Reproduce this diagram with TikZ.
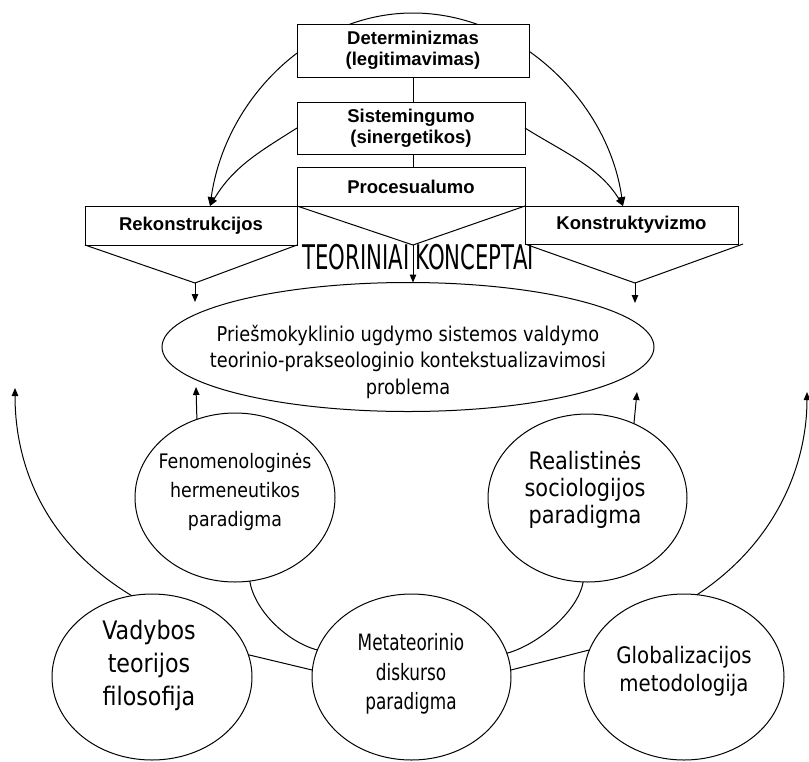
\documentclass[tikz,border=0pt]{standalone}
\usepackage{fontspec}
\usetikzlibrary{shapes.geometric,arrows.meta,backgrounds}
\newfontfamily\tahfont[FakeStretch=0.87]{DejaVu Sans}
\newfontfamily\metafont[FakeStretch=0.75]{DejaVu Sans}
\newfontfamily\bannerfont[FakeStretch=0.625]{DejaVu Sans}
\newfontfamily\boxfont{Liberation Sans}

\tikzset{
  conceptbox/.style={draw, fill=white, line width=1pt, inner sep=0pt, outer sep=0pt,
    align=center, font=\boxfont\bfseries\fontsize{18.5}{21}\selectfont},
  oval/.style={draw, ellipse, line width=1pt, inner sep=0pt, outer sep=0pt},
  link/.style={line width=1pt},
  arrowto/.style={line width=1pt, -{Triangle[length=8pt,width=6.5pt]}},
  twoway/.style={line width=1pt, {Triangle[length=9pt,width=7pt]}-{Triangle[length=9pt,width=7pt]}},
  ovaltext/.style={align=center, inner sep=0pt},
}

\begin{document}
\begin{tikzpicture}[x=1pt,y=-1pt]
\useasboundingbox (0,0) rectangle (809,761);

% theoretical concepts
\node[conceptbox, minimum width=232pt, minimum height=53pt] (det) at (413,50.5) {Determinizmas\\(legitimavimas)};
\node[conceptbox, minimum width=228pt, minimum height=52pt] (sis) at (411,128) {Sistemingumo\\(sinergetikos)};
\node[conceptbox, minimum width=228pt, minimum height=39pt] (proc) at (411,186.5) {Procesualumo};
\node[conceptbox, minimum width=212pt, minimum height=39pt] (rek) at (191,225.5) {Rekonstrukcijos};
\node[conceptbox, minimum width=213pt, minimum height=38pt] (kon) at (631.5,225) {Konstruktyvizmo};

\node[font=\bannerfont\fontsize{34}{34}\selectfont, anchor=base, inner sep=0pt] (banner) at (418,269) {TEORINIAI\hspace{6pt}KONCEPTAI};

% central problem
\node[oval, minimum width=492pt, minimum height=129pt] (ell) at (408,347) {};
\node[ovaltext, font=\tahfont\fontsize{20.4}{26.5}\selectfont] (ellText) at (408,361.5)
  {Priešmokyklinio ugdymo sistemos valdymo\\teorinio-prakseologinio kontekstualizavimosi\\problema};

% paradigms
\node[oval, minimum width=200pt, minimum height=169pt] (fen) at (235,497.5) {};
\node[ovaltext, font=\tahfont\fontsize{20}{29}\selectfont] (fenText) at (235,492) {Fenomenologinės\\hermeneutikos\\paradigma};
\node[oval, minimum width=199pt, minimum height=168pt] (real) at (587.5,498) {};
\node[ovaltext, font=\tahfont\fontsize{24}{27}\selectfont] (realText) at (585,490) {Realistinės\\sociologijos\\paradigma};
\node[oval, minimum width=200pt, minimum height=166pt] (vad) at (152,677) {};
\node[ovaltext, font=\tahfont\fontsize{25.5}{33}\selectfont] (vadText) at (149,665) {Vadybos\\teorijos\\filosofija};
\node[oval, minimum width=199pt, minimum height=166pt] (meta) at (411.5,677) {};
\node[ovaltext, font=\metafont\fontsize{22.5}{29.5}\selectfont] (metaText) at (411,674) {Metateorinio\\diskurso\\paradigma};
\node[oval, minimum width=200pt, minimum height=166pt] (glob) at (684,677) {};
\node[ovaltext, font=\tahfont\fontsize{22.7}{28}\selectfont] (globText) at (684,671) {Globalizacijos\\metodologija};

% free ends of connectors
\coordinate (rekApex) at (195,283);
\coordinate (procApex) at (413,245);
\coordinate (konApex) at (635,283);
\coordinate (rekOut) at (195,302);
\coordinate (konOut) at (635,303);
\coordinate (rekTip) at (210,206);
\coordinate (konTip) at (623,206);
\coordinate (arcTop) at (413,13);
\coordinate (fenTip) at (196,387);
\coordinate (realTip) at (637,392);
\coordinate (vadTip) at (15,388);
\coordinate (globTip) at (807,392);

% concept chain
\draw[link] (det.south) -- (det.south |- sis.north);
\draw[link] (det.south |- sis.south) -- (det.south |- proc.north);

% funnels under the concepts
\draw[link] (rek.south west) -- (rekApex) -- (rek.south east);
\draw[link] (proc.south west) -- (procApex) -- (proc.south east);
\draw[link] (kon.south west) -- (konApex) -- ([xshift=5pt]kon.south east);
\draw[arrowto] (rekApex) -- (rekOut);
\draw[arrowto] (konApex) -- (konOut);
\draw[arrowto] (procApex) -- (procApex |- ell.north);

% arcs from the upper concepts
\begin{scope}[on background layer]
  \draw[twoway] (rekTip) .. controls (225,100) and (310,13) .. (arcTop)
                         .. controls (516,13) and (608,100) .. (konTip);
\end{scope}
\draw[arrowto] (sis.west) .. controls +(-38,24) and +(23,-39) .. (rekTip);
\draw[arrowto] (sis.east) .. controls +(38,24) and +(-23,-39) .. (konTip);

% paradigms towards the problem
\draw[arrowto] (fen.116) -- (fenTip);
\draw[arrowto] (real.58) -- (realTip);
\draw[arrowto] (vad.104) .. controls (40,540) and (15,460) .. (vadTip);
\draw[arrowto] (glob.81) .. controls (780,540) and (807,460) .. (globTip);

% links between paradigms
\draw[link] (fen.-80) .. controls +(5,30) and +(-30,-8) .. (meta.164);
\draw[link] (real.-93) .. controls +(-5,30) and +(30,-8) .. (meta.14);
\draw[link] (vad.13) -- (meta.176);
\draw[link] (meta.4) -- (glob.164);
\end{tikzpicture}
\end{document}
